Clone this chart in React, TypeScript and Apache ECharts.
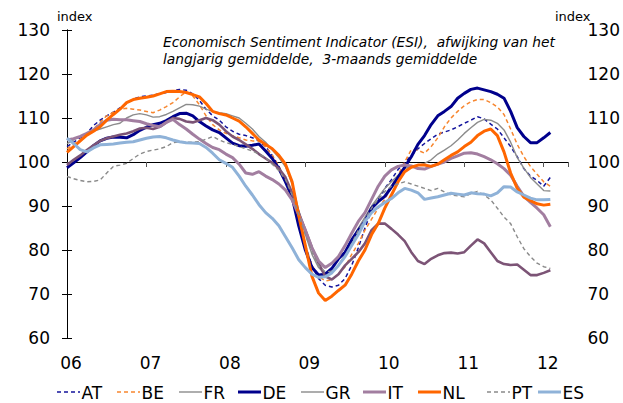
import { useEffect, useRef } from "react";
import * as echarts from "echarts";

// Year tick labels (ticks every 12 months starting Jan 2006)
const yearLabels = ["06", "07", "08", "09", "10", "11", "12"];
const seriesNames = ["AT", "BE", "FR", "DE", "GR", "IT", "NL", "PT", "ES"];

// Monthly values, Jan 2006 .. Feb 2012 (3-month moving average, index)
const AT = [103.5, 104.5, 105.5, 106.5, 108.3, 109.5, 110.5, 111.3, 112.3, 113.3,
  114.3, 114.8, 115.0, 115.2, 115.5, 115.8, 116.2, 116.5, 116.3, 115.5,
  114.0, 112.0, 110.5, 109.5, 108.0, 107.0, 106.3, 106.0, 105.5, 104.8,
  103.5, 101.5, 99.0, 96.0, 92.0, 86.5, 81.0, 76.5, 73.5, 72.0,
  71.6, 72.0, 73.5, 76.5, 80.5, 85.0, 89.0, 91.5, 94.0, 96.0,
  98.3, 99.8, 101.5, 103.0, 104.2, 105.3, 106.3, 106.8, 107.3, 108.0,
  108.8, 109.5, 110.3, 109.8, 108.6, 107.5, 105.5, 103.5, 101.2, 98.5,
  96.8, 95.8, 94.5, 96.5];
const BE = [103.0, 104.0, 105.0, 106.3, 107.5, 109.0, 110.5, 111.3, 112.0, 112.2,
  112.0, 111.8, 111.5, 111.2, 111.8, 112.6, 113.5, 114.8, 116.0, 115.0,
  113.0, 110.5, 108.5, 107.3, 106.5, 106.0, 105.5, 105.0, 104.8, 104.8,
  103.5, 101.5, 99.0, 96.0, 91.5, 86.0, 80.5, 76.5, 74.0, 73.0,
  73.2, 74.5, 76.2, 79.0, 81.5, 84.5, 87.0, 89.5, 91.5, 94.5,
  97.0, 100.0, 102.8, 102.7, 102.0, 103.5, 105.5, 108.0, 110.0, 111.5,
  112.8, 113.7, 114.2, 114.2, 113.5, 112.5, 110.8, 107.5, 104.0, 101.2,
  99.0, 97.2, 95.5, 94.5];
const FR = [104.2, 105.0, 105.8, 106.5, 107.0, 107.5, 108.0, 108.5, 108.8, 110.0,
  110.7, 111.0, 110.7, 110.2, 110.3, 110.8, 111.5, 112.3, 113.1, 113.0,
  112.7, 112.0, 111.5, 111.2, 111.0, 110.5, 110.0, 108.8, 107.5, 105.8,
  104.5, 102.7, 101.0, 98.9, 95.0, 89.0, 83.5, 79.0, 76.0, 74.5,
  75.0, 76.5, 79.0, 82.0, 85.0, 87.5, 90.0, 92.0, 94.0, 95.5,
  97.0, 98.5, 99.0, 99.2, 99.7, 100.5, 101.8, 102.7, 103.7, 105.0,
  106.5, 107.8, 109.0, 109.7, 109.5, 108.8, 107.3, 104.5, 101.0, 98.6,
  96.5, 95.0, 93.5, 93.4];
const DE = [98.7, 99.8, 101.0, 102.3, 103.7, 104.8, 105.4, 105.7, 105.6, 105.5,
  106.2, 107.2, 107.9, 108.5, 108.8, 109.4, 110.3, 111.0, 111.1, 110.5,
  109.2, 108.2, 107.3, 106.7, 105.5, 104.3, 103.7, 103.6, 103.8, 104.1,
  102.5, 100.8, 98.5, 95.5, 92.0, 85.5, 80.0, 76.0, 74.3, 74.5,
  75.8, 78.0, 79.5, 82.3, 84.5, 86.5, 89.5, 91.0, 92.2, 94.3,
  96.5, 98.8, 101.2, 104.0, 106.0, 108.5, 110.5, 111.5, 112.6, 114.5,
  115.6, 116.5, 116.8, 116.4, 116.0, 115.4, 114.5, 111.5, 107.8, 105.8,
  104.4, 104.4, 105.5, 106.7];
const GR = [99.3, 100.5, 101.5, 102.7, 103.8, 104.8, 105.4, 105.8, 106.2, 106.5,
  107.0, 107.6, 107.8, 107.5, 108.0, 109.0, 110.0, 109.8, 109.2, 109.0,
  109.5, 110.0, 109.5, 108.5, 107.0, 105.8, 105.0, 104.0, 103.0, 101.8,
  100.8, 99.8, 98.5, 96.5, 93.0, 88.5, 84.5, 80.5, 77.0, 74.0,
  73.3, 74.5, 76.5, 78.0, 79.5, 81.5, 84.5, 86.0, 86.0, 84.8,
  83.5, 82.0, 79.5, 77.5, 76.8, 78.0, 78.8, 79.3, 79.4, 79.2,
  79.5, 81.0, 82.4, 81.5, 79.5, 77.5, 76.8, 76.6, 76.7, 75.5,
  74.3, 74.3, 74.8, 75.4];
const IT = [105.0, 105.3, 105.8, 106.5, 107.3, 108.5, 109.5, 109.7, 109.6, 109.6,
  109.4, 109.2, 108.7, 108.3, 108.0, 109.0, 109.7, 108.5, 107.5, 106.3,
  105.2, 104.2, 103.3, 102.8, 101.8, 101.0, 99.5, 97.5, 97.2, 97.8,
  96.8, 96.0, 95.0, 93.6, 91.4, 88.0, 84.5, 80.5, 77.5, 76.0,
  77.0, 78.5, 81.0, 83.8, 86.5, 88.5, 91.5, 94.5, 96.8, 98.2,
  99.0, 99.3, 99.1, 98.5, 98.4, 99.0, 99.5, 100.0, 100.8, 101.4,
  102.0, 102.1, 101.8, 101.2, 100.5, 99.6, 98.5, 97.0, 94.5, 92.2,
  90.8, 89.5, 88.0, 85.3];
const NL = [102.2, 103.5, 104.8, 106.1, 107.0, 108.0, 109.5, 110.8, 112.0, 113.5,
  114.2, 114.5, 114.7, 115.0, 115.5, 116.0, 116.1, 116.0, 115.8, 115.3,
  114.8, 113.3, 111.5, 111.0, 110.7, 110.0, 109.3, 108.0, 106.5, 105.0,
  104.0, 103.0, 101.5, 99.5, 95.5, 87.8, 81.0, 74.0, 70.2, 68.5,
  69.5, 70.8, 72.0, 74.5, 77.5, 80.0, 83.5, 86.0, 89.5, 92.5,
  95.5, 97.8, 98.8, 99.3, 99.3, 99.0, 99.5, 100.5, 101.5, 102.3,
  103.5, 104.5, 106.0, 107.0, 107.5, 106.0, 102.3, 97.5, 94.0, 92.0,
  91.2, 90.5, 90.2, 90.4];
const PT = [96.7, 96.2, 95.8, 95.5, 95.6, 95.9, 97.5, 99.0, 99.3, 99.7,
  100.8, 101.8, 102.4, 102.7, 103.0, 103.5, 104.4, 104.6, 104.5, 104.5,
  104.6, 105.2, 105.8, 105.0, 104.4, 104.0, 103.5, 103.0, 102.5, 101.8,
  101.0, 99.5, 98.0, 96.0, 92.5, 88.0, 83.5, 79.5, 76.5, 75.0,
  75.2, 76.5, 78.5, 81.5, 84.5, 87.0, 89.5, 91.5, 93.3, 94.5,
  95.0, 95.5, 95.0, 94.5, 94.0, 93.5, 94.0, 93.2, 92.5, 92.3,
  92.1, 92.8, 93.3, 92.5, 91.4, 89.5, 87.5, 86.0, 83.0, 80.3,
  78.5, 77.0, 76.2, 75.8];
const ES = [105.4, 104.2, 102.8, 102.3, 103.2, 103.9, 104.0, 104.1, 104.3, 104.5,
  104.6, 105.0, 105.4, 105.7, 105.8, 105.5, 105.0, 104.6, 104.4, 104.3,
  104.2, 103.3, 102.0, 100.5, 99.7, 98.8, 96.8, 94.5, 92.5, 90.3,
  88.5, 87.2, 85.5, 83.0, 80.5, 77.8, 76.0, 74.5, 73.8, 73.9,
  74.8, 76.5, 78.5, 81.0, 83.5, 86.5, 88.5, 89.8, 90.8, 91.7,
  93.0, 94.0, 93.6, 93.0, 91.5, 91.8, 92.1, 92.5, 92.9, 92.7,
  92.5, 93.0, 92.8, 92.7, 92.3, 93.0, 94.4, 94.3, 93.2, 92.5,
  91.8, 91.4, 91.4, 91.5];

const seriesValues = [AT, BE, FR, DE, GR, IT, NL, PT, ES];

const lineStyles = [
  { color: "#14149c", width: 1.5, type: [4, 3] },
  { color: "#f7862f", width: 1.5, type: [4, 3] },
  { color: "#8c8c8c", width: 1.4, type: "solid" },
  { color: "#00008c", width: 3, type: "solid" },
  { color: "#7c5476", width: 2.6, type: "solid" },
  { color: "#a27ea0", width: 3, type: "solid" },
  { color: "#ff6600", width: 3, type: "solid" },
  { color: "#8a8a8a", width: 1.4, type: [4, 3] },
  { color: "#8fb2d8", width: 3, type: "solid" },
];
// legend swatch colours / widths as they appear in the picture
const legendColors = ["#14149c", "#f7862f", "#8c8c8c", "#00008c", "#999999", "#a27ea0", "#ff6600", "#8a8a8a", "#8fb2d8"];
const legendWidths = [1.5, 1.5, 1.4, 3, 1.6, 3, 3, 1.4, 3];

const FONT = "'DejaVu Sans', Verdana, sans-serif";
const X_MAX = 75.75;

// layout of the hand-placed legend (left edge of each swatch)
const legendLeft = [57, 117, 179, 238, 301, 363, 418, 487, 538];
const LEGEND_Y = 393;

export default function App() {
  const ref = useRef<HTMLDivElement>(null);
  useEffect(() => {
    const chart = echarts.init(ref.current!, null, { renderer: "svg" });
    const yAxisBase = {
      type: "value",
      min: 60,
      max: 130,
      interval: 10,
      axisLine: { show: true, lineStyle: { color: "#000", width: 1 } },
      axisTick: { show: true, length: 5, lineStyle: { color: "#000" } },
      splitLine: { show: false },
    };

    const legendElements: any[] = [];
    seriesNames.forEach((n, i) => {
      const x0 = legendLeft[i];
      const st = lineStyles[i];
      legendElements.push({
        type: "line",
        shape: { x1: x0, y1: LEGEND_Y - 1, x2: x0 + 23, y2: LEGEND_Y - 1 },
        style: {
          stroke: legendColors[i],
          lineWidth: legendWidths[i],
          lineDash: Array.isArray(st.type) ? st.type : null,
        },
        silent: true,
      });
      legendElements.push({
        type: "text",
        x: x0 + 24.5,
        y: LEGEND_Y,
        style: {
          text: n,
          fontFamily: FONT,
          fontSize: 17,
          fill: "#000",
          verticalAlign: "middle",
          align: "left",
        },
        silent: true,
      });
    });

    chart.setOption({
      animation: false,
      backgroundColor: "#fff",
      grid: { left: 67, right: 51, top: 30, bottom: 65, containLabel: false },
      xAxis: [
        {
          type: "value",
          min: 0,
          max: X_MAX,
          interval: 12,
          axisLine: { show: false },
          axisTick: { show: false },
          splitLine: { show: false },
          axisLabel: {
            fontFamily: FONT,
            fontSize: 17,
            color: "#000",
            margin: 16,
            padding: [0, 0, 0, 8],
            formatter: (v: number) => (v % 12 === 0 ? yearLabels[v / 12] ?? "" : ""),
          },
        },
        {
          type: "value",
          position: "bottom",
          offset: -176,
          min: 0,
          max: X_MAX,
          interval: 12,
          axisLine: { show: true, onZero: false, lineStyle: { color: "#000", width: 1 } },
          axisTick: { show: true, length: 5, lineStyle: { color: "#555" } },
          axisLabel: { show: false },
          splitLine: { show: false },
        },
      ],
      yAxis: [
        {
          ...yAxisBase,
          position: "left",
          axisLabel: { fontFamily: FONT, fontSize: 17, color: "#000", margin: 17 },
        },
        {
          ...yAxisBase,
          position: "right",
          axisLabel: { fontFamily: FONT, fontSize: 17, color: "#000", margin: 19 },
        },
      ],
      graphic: [
        {
          type: "text",
          left: 57,
          top: 10,
          style: { text: "index", fontFamily: FONT, fontSize: 13, fill: "#000" },
        },
        {
          type: "text",
          left: 555,
          top: 10,
          style: { text: "index", fontFamily: FONT, fontSize: 13, fill: "#000" },
        },
        {
          type: "text",
          left: 163,
          top: 35,
          style: {
            text: "Economisch Sentiment Indicator (ESI),  afwijking van het",
            fontFamily: FONT,
            fontSize: 13.8,
            fontStyle: "italic",
            fill: "#000",
          },
        },
        {
          type: "text",
          left: 163,
          top: 52,
          style: {
            text: "langjarig gemiddelde,  3-maands gemiddelde",
            fontFamily: FONT,
            fontSize: 13.8,
            fontStyle: "italic",
            fill: "#000",
          },
        },
        ...legendElements,
      ],
      series: seriesNames.map((n, i) => ({
        name: n,
        type: "line",
        xAxisIndex: 0,
        yAxisIndex: 0,
        symbol: "none",
        showSymbol: false,
        smooth: false,
        data: seriesValues[i].map((v, m) => [m, v]),
        lineStyle: { ...lineStyles[i] },
        itemStyle: { color: lineStyles[i].color },
        emphasis: { disabled: true },
      })),
    });
    return () => chart.dispose();
  }, []);
  return (
    <div
      ref={ref}
      style={{ position: "fixed", left: 0, top: 0, width: 623, height: 403, background: "#fff" }}
    />
  );
}
